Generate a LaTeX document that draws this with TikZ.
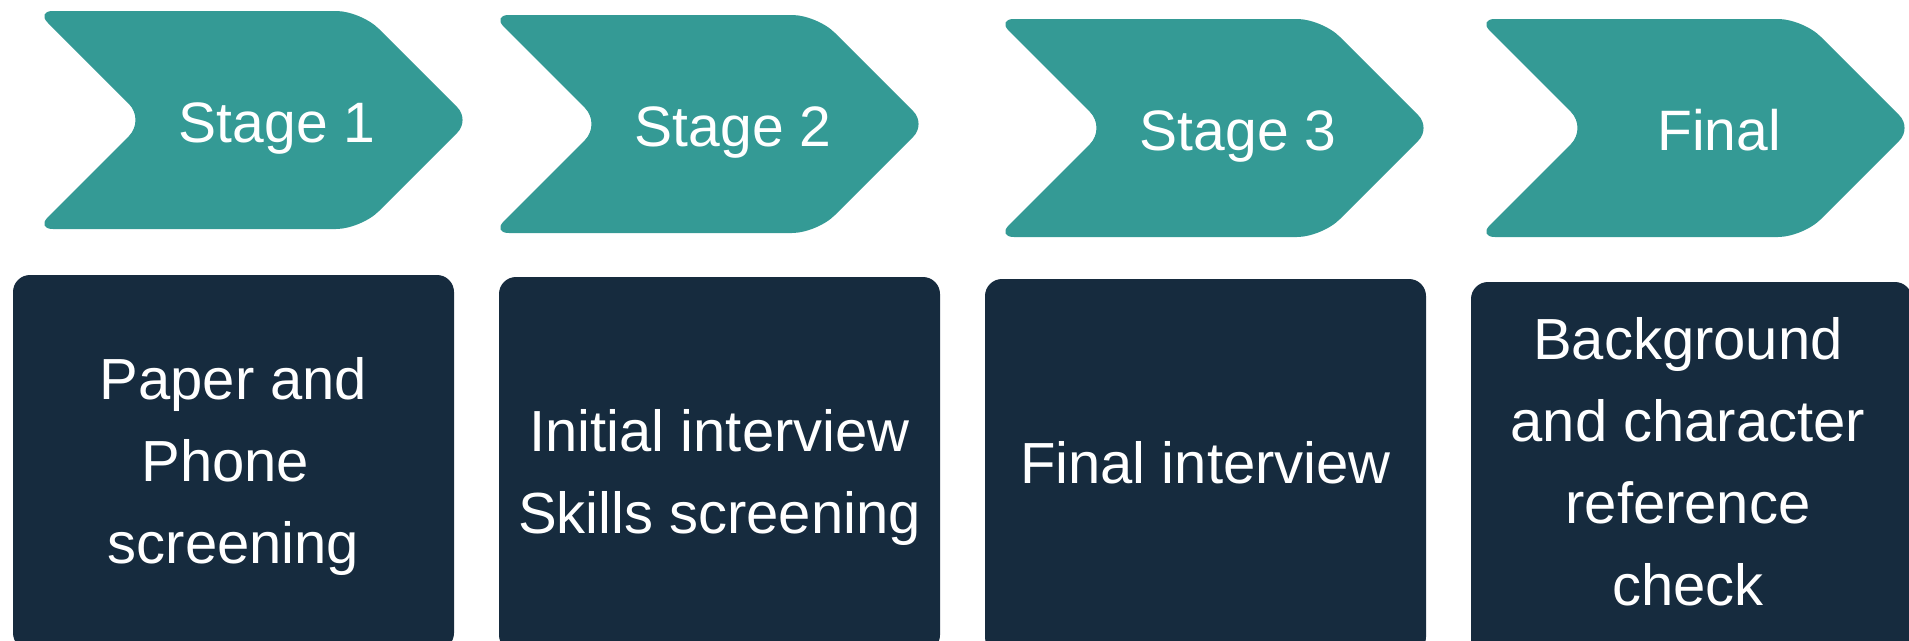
\documentclass[tikz,border=0pt]{standalone}
\usepackage{fontspec}
\setmainfont{Liberation Sans}
\definecolor{stageteal}{HTML}{349A95}
\definecolor{tasknavy}{HTML}{162B3E}

\begin{document}
\begin{tikzpicture}[x=1pt,y=-1pt,
  stagefill/.style={fill=stageteal},
  stagetext/.style={text=white,anchor=base,inner sep=0pt,font=\fontsize{57}{68}\selectfont},
  taskbox/.style={fill=tasknavy,rounded corners=17pt,minimum width=441pt,minimum height=375pt,inner sep=0pt},
  tasktext/.style={text=white,align=center,inner sep=0pt,font=\fontsize{58}{82}\selectfont}]

\useasboundingbox (0,0) rectangle (1909,640);

\def\stage(#1,#2,#3,#4){
  \begin{scope}[shift={(#1,#2)}]
    \fill[stagefill] (100,0) [rounded corners=25pt] -- (325,0) [rounded corners=18pt] -- (434,109) [rounded corners=25pt] -- (325,218) [rounded corners=17pt] -- (0,218) [rounded corners=23pt] -- (109,109) [rounded corners=17pt] -- (0,0) -- cycle;
    \node[stagetext] (#3) at (241,131) {#4};
  \end{scope}
}

\def\task(#1,#2,#3,#4,#5,#6){
  \node[taskbox] (#3) at (#1,#2) {};
  \node[tasktext] (#3text) at (#5,#6) {#4};
}

\stage(36,11,stage1,Stage 1);
\stage(492,15,stage2,Stage 2);
\stage(997,19,stage3,Stage 3);
\stage(1478,19,final,Final);

\task(233.5,462.5,task1,Paper and\\Phone\rule{.28em}{0pt}\\screening,233.5,466);
\task(719.5,464.5,task2,Initial interview\\Skills screening,719.5,477);
\task(1205.5,466.5,task3,Final interview,1205.5,463);
\task(1691.5,469.5,task4,Background\\and character\\reference\\check,1688,461.5);

\end{tikzpicture}
\end{document}
